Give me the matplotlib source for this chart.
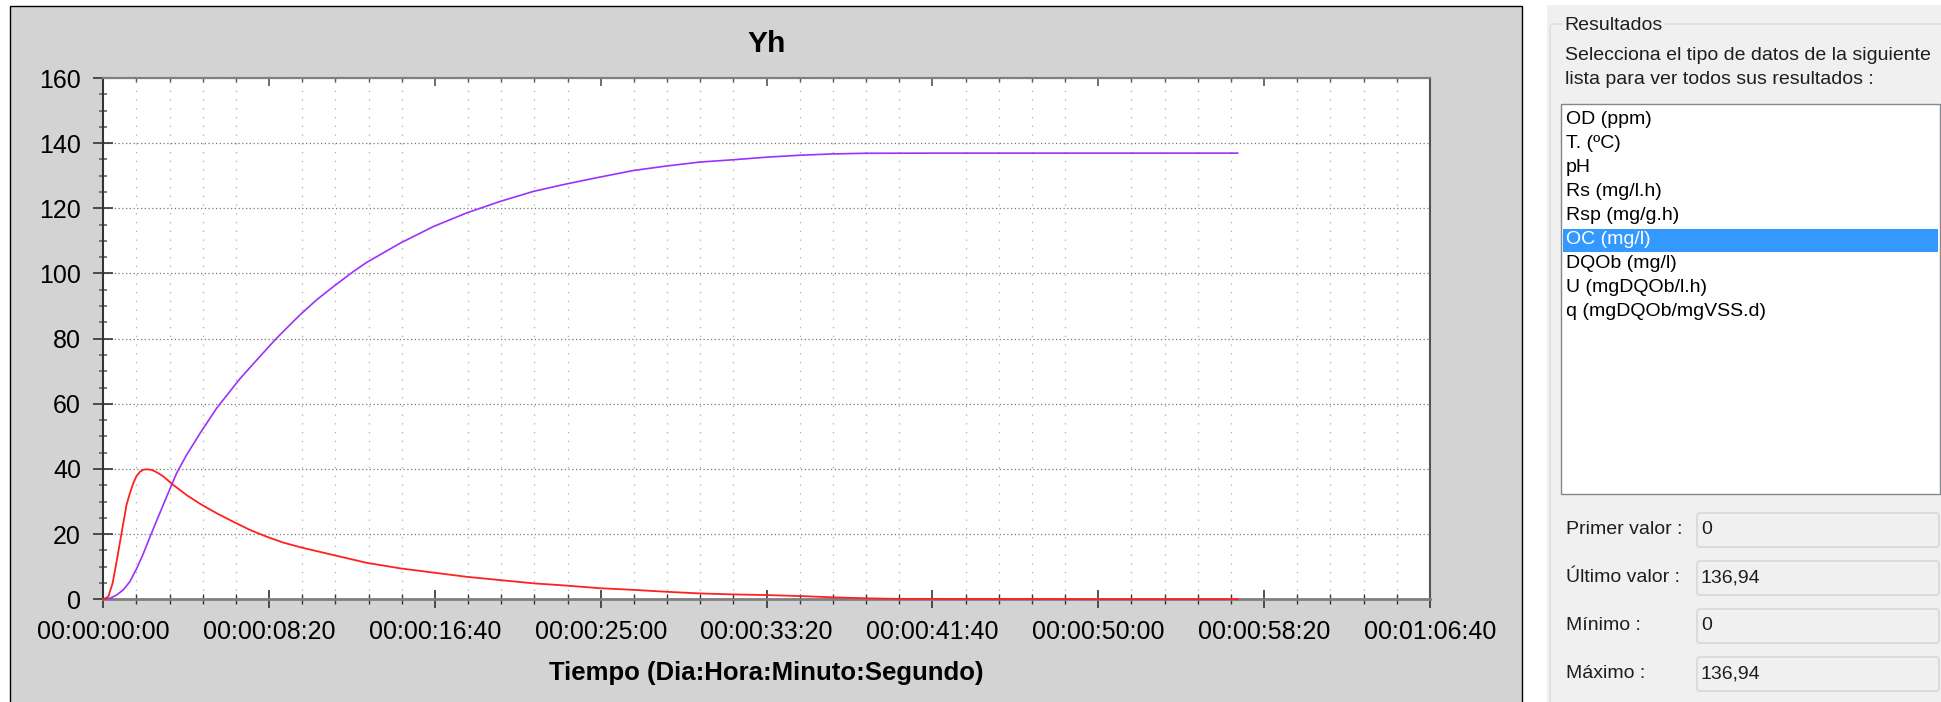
import matplotlib
matplotlib.use("Agg")
import matplotlib.pyplot as plt
from matplotlib.patches import Rectangle, FancyBboxPatch
from matplotlib.ticker import MultipleLocator, FuncFormatter

plt.rcParams['font.family'] = ['Liberation Sans', 'DejaVu Sans']

# Datos (tiempo en segundos)
purple_t = [0, 20, 40, 60, 80, 101, 121, 141, 166, 191, 221, 251, 292, 342, 412,
            472, 523, 593, 643, 694, 754, 794, 895, 995, 1096, 1196, 1297, 1397,
            1498, 1598, 1699, 1799, 1899, 2000, 2100, 2201, 2300, 2500, 2800, 3100, 3420]
purple_v = [0, 0.3, 1.3, 2.9, 5.4, 9.5, 14.1, 19.2, 25.4, 31.5, 38.7, 44.3, 51.0, 58.7, 67.7,
            74.5, 80.2, 87.3, 91.9, 96.0, 100.6, 103.4, 109.3, 114.4, 118.6, 122.1, 125.2, 127.5,
            129.6, 131.6, 133.0, 134.2, 134.9, 135.7, 136.3, 136.7, 136.9, 136.94, 136.94, 136.94, 136.94]

red_t = [0, 15, 28, 40, 55, 70, 80, 90, 100, 111, 122, 131, 141, 151, 166, 181, 211, 251, 292,
         342, 392, 442, 493, 543, 593, 693, 794, 895, 995, 1096, 1196, 1297, 1397, 1498, 1598,
         1699, 1799, 1899, 2000, 2100, 2201, 2302, 2382, 2700, 3000, 3420]
red_v = [0, 0.8, 4.9, 11.5, 20.3, 29.0, 32.5, 35.5, 37.8, 39.2, 39.8, 39.9, 39.8, 39.5, 38.7,
         37.7, 35.1, 32.0, 29.3, 26.4, 23.8, 21.3, 19.2, 17.4, 16.0, 13.6, 11.2, 9.5, 8.2, 6.9,
         5.9, 4.9, 4.2, 3.4, 2.9, 2.3, 1.8, 1.5, 1.3, 1.0, 0.6, 0.3, 0.15, 0.1, 0.05, 0.03]

list_items = ['OD (ppm)', 'T. (ºC)', 'pH', 'Rs (mg/l.h)', 'Rsp (mg/g.h)', 'OC (mg/l)',
              'DQOb (mg/l)', 'U (mgDQOb/l.h)', 'q (mgDQOb/mgVSS.d)']
selected = 'OC (mg/l)'
stat_labels = ['Primer valor :', 'Último valor :', 'Mínimo :', 'Máximo :']
stat_values = ['0', '136,94', '0', '136,94']

W, H = 1941, 702
fig = plt.figure(figsize=(W / 100, H / 100), dpi=100, facecolor='white')

# Capa de fondo en pixeles
bg = fig.add_axes([0, 0, 1, 1], zorder=-1)
bg.set_xlim(0, W)
bg.set_ylim(H, 0)
bg.axis('off')

# Panel gris del grafico
bg.add_patch(Rectangle((10, 6), 1512, 710, facecolor='#D3D3D3', edgecolor='black', lw=1))

# Panel de resultados
txt = 14
bg.add_patch(Rectangle((1547, 5), 420, 720, facecolor='#F0F0F0', edgecolor='none'))
bg.add_patch(FancyBboxPatch((1550, 24), 420, 720, boxstyle='round,pad=0,rounding_size=4',
                            facecolor='none', edgecolor='#D5DFE5', lw=1))
bg.text(1564, 25, 'Resultados', fontsize=txt, va='center', ha='left', color='#1E1E1E',
        bbox=dict(facecolor='#F0F0F0', edgecolor='none', pad=1))
bg.text(1565, 55, 'Selecciona el tipo de datos de la siguiente', fontsize=txt,
        va='center', ha='left', color='#1E1E1E')
bg.text(1565, 79, 'lista para ver todos sus resultados :', fontsize=txt,
        va='center', ha='left', color='#1E1E1E')

bg.add_patch(Rectangle((1561, 104), 379, 390, facecolor='white', edgecolor='#828790', lw=1))
for i, item in enumerate(list_items):
    yc = 120 + 24 * i
    if item == selected:
        bg.add_patch(Rectangle((1563, yc - 11.5), 375, 23, facecolor='#3399FF', edgecolor='none'))
        col = 'white'
    else:
        col = 'black'
    bg.text(1566, yc, item, fontsize=txt, va='center', ha='left', color=col)

for i, (lab, val) in enumerate(zip(stat_labels, stat_values)):
    y0 = 513 + 48 * i
    bg.add_patch(FancyBboxPatch((1697, y0), 242, 34, boxstyle='round,pad=0,rounding_size=3',
                                facecolor='#F0F0F0', edgecolor='#D2D2D2', lw=1))
    bg.text(1566, y0 + 17, lab, fontsize=txt, va='center', ha='left', color='#1E1E1E')
    bg.text(1701, y0 + 17, val, fontsize=txt, va='center', ha='left', color='#1E1E1E')

# Grafico principal
x0, x1, y0, y1 = 103.3, 1430, 78, 599.3
ax = fig.add_axes([x0 / W, 1 - y1 / H, (x1 - x0) / W, (y1 - y0) / H])
ax.set_facecolor('white')

ax.plot(purple_t, purple_v, color='#9B30FF', lw=1.2, zorder=3, clip_on=False)
ax.plot(red_t, red_v, color='#FF2020', lw=1.3, zorder=3, clip_on=False)

ax.set_xlim(0, 4000)
ax.set_ylim(0, 160)
ax.xaxis.set_major_locator(MultipleLocator(500))
ax.xaxis.set_minor_locator(MultipleLocator(100))
ax.yaxis.set_major_locator(MultipleLocator(20))
ax.yaxis.set_minor_locator(MultipleLocator(5))


def fmt_tiempo(s, pos):
    s = int(round(s))
    d = s // 86400
    h = (s % 86400) // 3600
    m = (s % 3600) // 60
    sec = s % 60
    return f'{d:02d}:{h:02d}:{m:02d}:{sec:02d}'


ax.xaxis.set_major_formatter(FuncFormatter(fmt_tiempo))

ax.tick_params(axis='x', which='major', direction='inout', length=12.5, width=1.2,
               color='#333333', pad=9, labelsize=18, top=False)
ax.tick_params(axis='x', which='minor', direction='inout', length=6.5, width=1,
               color='#333333', top=False)
ax.tick_params(axis='y', which='major', direction='inout', length=14, width=1.2,
               color='#333333', pad=9, labelsize=18, right=False)
ax.tick_params(axis='y', which='minor', direction='inout', length=6, width=1.2,
               color='#666666', right=False)

# ticks superiores hacia dentro
top = ax.secondary_xaxis('top')
top.xaxis.set_major_locator(MultipleLocator(500))
top.xaxis.set_minor_locator(MultipleLocator(100))
top.tick_params(which='major', direction='in', length=6, width=1.2, color='#555555', labeltop=False)
top.tick_params(which='minor', direction='in', length=3, width=1, color='#555555')
top.spines['top'].set_color('#7F7F7F')
top.spines['top'].set_linewidth(1.5)

ax.spines['left'].set_color('#333333')
ax.spines['left'].set_linewidth(1.5)
ax.spines['bottom'].set_color('#7F7F7F')
ax.spines['bottom'].set_linewidth(2)
ax.spines['top'].set_color('#7F7F7F')
ax.spines['top'].set_linewidth(1.5)
ax.spines['right'].set_color('#555555')
ax.spines['right'].set_linewidth(1.5)

ax.yaxis.grid(True, which='major', ls=(0, (1, 2)), color='#777777', lw=0.9)
ax.xaxis.grid(True, which='minor', ls=(0, (1, 6)), color='#AAAAAA', lw=0.9)

ax.set_title('Yh', fontsize=21.5, fontweight='bold', y=1.0, pad=19)
ax.set_xlabel('Tiempo (Dia:Hora:Minuto:Segundo)', fontsize=18.5, fontweight='bold', labelpad=12)

fig.savefig('out.png', dpi=100)
